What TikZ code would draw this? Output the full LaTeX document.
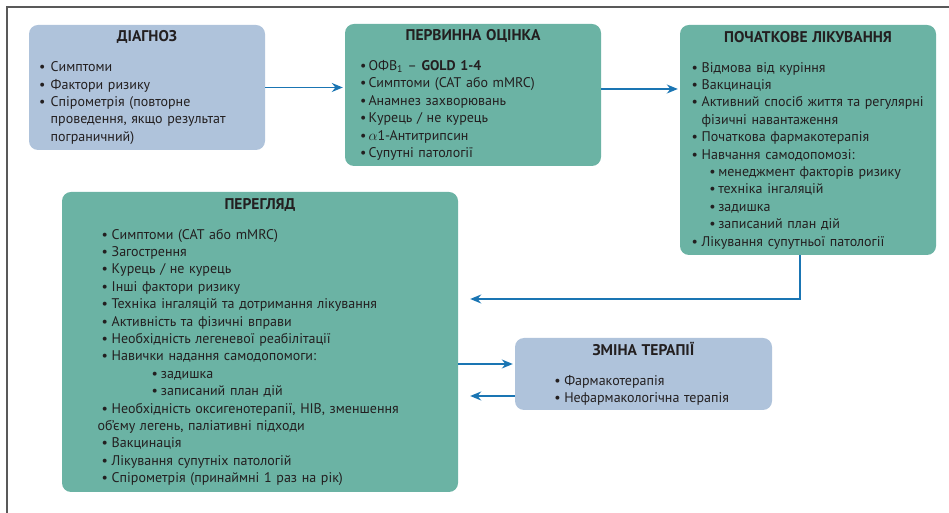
\documentclass[tikz,border=0pt]{standalone}
\usepackage{fontspec}
\setmainfont{PT Sans}
\usetikzlibrary{arrows.meta,positioning}

\definecolor{boxteal}{HTML}{6BB3A4}
\definecolor{boxblue}{HTML}{AFC3DB}
\definecolor{linkblue}{HTML}{1A75B3}
\definecolor{inkdark}{HTML}{231F20}

% bullet item, optional width of the bullet box
\newcommand{\itm}[2][10pt]{\mbox{\makebox[#1][l]{\textbullet}#2}}
% centred bold heading of a box
\newcommand{\boxtitle}[1]{%
  \makebox[\linewidth][c]{\fontsize{15.5}{17.3}\selectfont\bfseries #1}\\[12.5pt]}

\begin{document}
\begin{tikzpicture}[%
    x=1pt, y=1pt,
    >={Stealth[length=11pt,width=9pt]}, % arrow tips of all connectors
    every node/.style={text=inkdark},
    ]
% -------------------------------------------------
% Box and connector styles
\tikzset{
  base/.style={rounded corners=9pt, align=left, inner ysep=0pt,
    font=\fontsize{14}{17.4}\selectfont},
  diagbox/.style={base, fill=boxblue},
  stagebox/.style={base, fill=boxteal},
  link/.style={->, draw=linkblue, line width=1.5pt},
  frame/.style={draw=black!65, line width=1.3pt}
}
\useasboundingbox (0,0) rectangle (949,513);
\draw [frame] (949,506) -- (7,506) -- (7,0);

% -------------------------------------------------
% The boxes
\node [diagbox, text width=216pt, inner xsep=10pt, minimum height=125pt]
  (diag) at (147,425.5) {%
  \boxtitle{ДІАГНОЗ}
  \itm[11.7pt]{Симптоми}\\
  \itm[11.7pt]{Фактори ризику}\\
  \itm[11.7pt]{Спірометрія (повторне}\\
  \hspace*{11.7pt}проведення, якщо результат\\
  \hspace*{11.7pt}пограничний)};

\node [stagebox, text width=226pt, inner xsep=15pt, minimum height=142pt]
  (first) at (473,418) {%
  \boxtitle{ПЕРВИННА ОЦІНКА}
  \itm[8.5pt]{ОФВ\textsubscript{1} – \textbf{GOLD 1-4}}\\
  \itm[8.5pt]{Симптоми (CAT або mMRC)}\\
  \itm[8.5pt]{Анамнез захворювань}\\
  \itm[8.5pt]{Курець / не курець}\\
  \itm[8.5pt]{$\alpha$1-Антитрипсин}\\
  \itm[8.5pt]{Супутні патології}};

\node [stagebox, text width=232.6pt, inner xsep=11.7pt, minimum height=230pt]
  (init) at (808,373) {%
  \boxtitle{ПОЧАТКОВЕ ЛІКУВАННЯ}
  \itm{Відмова від куріння}\\
  \itm{Вакцинація}\\
  \itm{Активний спосіб життя та регулярні}\\
  \hspace*{10pt}фізичні навантаження\\
  \itm{Початкова фармакотерапія}\\
  \itm{Навчання самодопомозі:}\\
  \hspace*{17.6pt}\itm[9pt]{менеджмент факторів ризику}\\
  \hspace*{17.6pt}\itm[9pt]{техніка інгаляцій}\\
  \hspace*{17.6pt}\itm[9pt]{задишка}\\
  \hspace*{17.6pt}\itm[9pt]{записаний план дій}\\
  \itm{Лікування супутньої патології}};

\node [stagebox, text width=316.6pt, inner xsep=39.7pt, minimum height=300pt]
  (review) at (260,171) {%
  \boxtitle{ПЕРЕГЛЯД}
  \itm{Симптоми (CAT або mMRC)}\\
  \itm{Загострення}\\
  \itm{Курець / не курець}\\
  \itm{Інші фактори ризику}\\
  \itm{Техніка інгаляцій та дотримання лікування}\\
  \itm{Активність та фізичні вправи}\\
  \itm{Необхідність легеневої реабілітації}\\
  \itm{Навички надання самодопомоги:}\\
  \hspace*{50pt}\itm[9.3pt]{задишка}\\
  \hspace*{50pt}\itm[9.3pt]{записаний план дій}\\
  \itm{Необхідність оксигенотерапії, НІВ, зменшення}\\
  \hspace*{-4pt}об’єму легень, паліативні підходи\\
  \itm{Вакцинація}\\
  \itm{Лікування супутніх патологій}\\
  \itm{Спірометрія (принаймні 1 раз на рік)}};

\node [diagbox, text width=178.4pt, inner xsep=39.3pt, minimum height=72pt]
  (change) at (643.5,139) {%
  \boxtitle{ЗМІНА ТЕРАПІЇ}
  \itm{Фармакотерапія}\\
  \itm{Нефармакологічна терапія}};

% -------------------------------------------------
% Connectors
\draw [link, shorten >=2pt] (diag.east) -- (diag.east -| first.west);
\draw [link, shorten >=2pt] ([yshift=6pt]first.east)
  -- ([yshift=6pt]first.east -| init.west);
\draw [link, shorten >=12pt] ([xshift=-8pt]init.south)
  |- ([yshift=43pt]review.east);
\draw [link, shorten >=2pt] ([yshift=10pt]change.west -| review.east)
  -- ([yshift=10pt]change.west);
\draw [link, shorten >=12pt] ([yshift=-22pt]change.west)
  -- ([yshift=-22pt]change.west -| review.east);
% -------------------------------------------------
\end{tikzpicture}
\end{document}
